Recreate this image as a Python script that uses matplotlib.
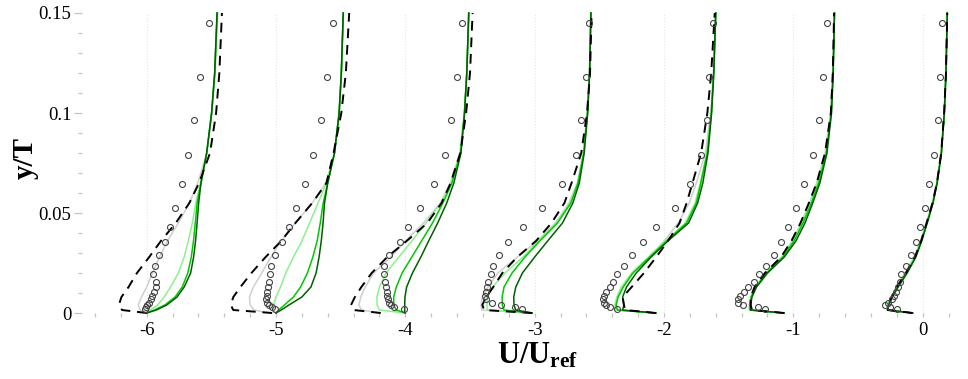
import matplotlib
matplotlib.use("Agg")
import matplotlib.pyplot as plt
import numpy as np
from matplotlib.ticker import MultipleLocator

plt.rcParams['font.family'] = ['Liberation Serif', 'DejaVu Serif']
plt.rcParams['axes.unicode_minus'] = False
plt.rcParams['mathtext.fontset'] = 'custom'
plt.rcParams['mathtext.rm'] = 'Liberation Serif'
plt.rcParams['mathtext.bf'] = 'Liberation Serif:bold'

# station offsets on the U/Uref axis
stations = [-6, -5, -4, -3, -2, -1, 0]

# wall-normal positions for the simulated profiles
y_line = [0, 0.0015, 0.004, 0.008, 0.013, 0.02, 0.028, 0.036, 0.045, 0.055, 0.065, 0.08, 0.1, 0.12, 0.15]

# wall-normal positions of the measured points
y_exp = [0.1448, 0.1182, 0.0965, 0.0792, 0.0645, 0.0527, 0.0432, 0.0355, 0.0288, 0.0235,
         0.0193, 0.0157, 0.0130, 0.0105, 0.0085, 0.0068, 0.0052, 0.0040, 0.0028, 0.0018]

# velocity relative to station offset, one list per station
u_gray = [
    [0, -0.05, -0.065, -0.04, 0.0, 0.045, 0.1, 0.16, 0.245, 0.33, 0.395, 0.465, 0.505, 0.53, 0.55],
    [-0.05, -0.17, -0.2, -0.205, -0.175, -0.11, -0.04, 0.04, 0.15, 0.28, 0.385, 0.455, 0.49, 0.507, 0.522],
    [-0.2, -0.34, -0.358, -0.345, -0.31, -0.245, -0.113, 0.0, 0.14, 0.27, 0.35, 0.42, 0.456, 0.476, 0.493],
    [-0.02, -0.41, -0.415, -0.405, -0.36, -0.285, -0.133, 0.02, 0.16, 0.265, 0.33, 0.375, 0.405, 0.423, 0.435],
    [-0.063, -0.37, -0.375, -0.36, -0.32, -0.245, -0.11, 0.0, 0.11, 0.195, 0.25, 0.32, 0.36, 0.382, 0.4],
    [-0.071, -0.34, -0.34, -0.33, -0.295, -0.21, -0.09, -0.01, 0.06, 0.125, 0.18, 0.245, 0.288, 0.305, 0.318],
    [-0.078, -0.275, -0.27, -0.245, -0.205, -0.138, -0.066, -0.017, 0.027, 0.074, 0.108, 0.142, 0.166, 0.18, 0.19],
]
u_lightgreen = [
    [0, 0.03, 0.085, 0.135, 0.185, 0.245, 0.29, 0.322, 0.353, 0.38, 0.415, 0.465, 0.503, 0.527, 0.547],
    [0, -0.025, -0.02, 0.0, 0.035, 0.075, 0.135, 0.2, 0.26, 0.325, 0.39, 0.452, 0.488, 0.505, 0.52],
    [0, -0.2, -0.218, -0.22, -0.2, -0.15, -0.05, 0.05, 0.16, 0.275, 0.355, 0.425, 0.456, 0.475, 0.491],
    [-0.02, -0.365, -0.37, -0.366, -0.326, -0.23, -0.09, 0.03, 0.17, 0.27, 0.332, 0.378, 0.407, 0.424, 0.435],
    [-0.063, -0.375, -0.38, -0.365, -0.33, -0.25, -0.12, 0.01, 0.165, 0.24, 0.28, 0.33, 0.365, 0.384, 0.4],
    [-0.071, -0.34, -0.34, -0.33, -0.295, -0.21, -0.085, -0.005, 0.065, 0.13, 0.185, 0.25, 0.29, 0.306, 0.318],
    [-0.078, -0.275, -0.268, -0.242, -0.198, -0.13, -0.06, -0.013, 0.03, 0.076, 0.11, 0.143, 0.166, 0.18, 0.19],
]
u_green = [
    [0, 0.06, 0.14, 0.22, 0.275, 0.318, 0.345, 0.362, 0.376, 0.39, 0.42, 0.464, 0.502, 0.526, 0.545],
    [0, 0.02, 0.065, 0.135, 0.19, 0.243, 0.285, 0.318, 0.342, 0.365, 0.4, 0.452, 0.488, 0.505, 0.52],
    [0, -0.07, -0.09, -0.09, -0.07, -0.025, 0.05, 0.125, 0.21, 0.29, 0.36, 0.428, 0.457, 0.475, 0.49],
    [-0.02, -0.237, -0.25, -0.252, -0.237, -0.175, -0.075, 0.04, 0.176, 0.28, 0.335, 0.38, 0.408, 0.424, 0.434],
    [-0.063, -0.36, -0.37, -0.355, -0.315, -0.24, -0.11, 0.02, 0.175, 0.25, 0.285, 0.335, 0.366, 0.384, 0.4],
    [-0.071, -0.335, -0.335, -0.325, -0.29, -0.205, -0.08, 0.005, 0.075, 0.14, 0.195, 0.255, 0.293, 0.307, 0.318],
    [-0.078, -0.272, -0.265, -0.238, -0.193, -0.124, -0.056, -0.01, 0.033, 0.078, 0.111, 0.144, 0.167, 0.18, 0.19],
]
u_darkgreen = [
    [0, 0.075, 0.155, 0.235, 0.29, 0.34, 0.363, 0.378, 0.39, 0.402, 0.42, 0.464, 0.502, 0.526, 0.544],
    [0, 0.04, 0.1, 0.2, 0.27, 0.31, 0.333, 0.35, 0.364, 0.375, 0.4, 0.452, 0.488, 0.505, 0.52],
    [-0.005, -0.005, -0.005, -0.003, 0.01, 0.055, 0.12, 0.18, 0.25, 0.32, 0.375, 0.43, 0.458, 0.475, 0.49],
    [-0.02, -0.146, -0.16, -0.162, -0.146, -0.095, 0.0, 0.1, 0.215, 0.295, 0.345, 0.383, 0.41, 0.425, 0.435],
    [-0.063, -0.32, -0.31, -0.32, -0.29, -0.215, -0.1, 0.03, 0.19, 0.26, 0.3, 0.34, 0.368, 0.385, 0.4],
    [-0.071, -0.33, -0.33, -0.32, -0.285, -0.2, -0.07, 0.02, 0.09, 0.15, 0.205, 0.26, 0.295, 0.308, 0.318],
    [-0.078, -0.27, -0.262, -0.235, -0.19, -0.12, -0.053, -0.008, 0.035, 0.08, 0.112, 0.145, 0.167, 0.18, 0.19],
]
u_dashed = [
    [0, -0.19, -0.215, -0.195, -0.14, -0.075, 0.02, 0.11, 0.225, 0.33, 0.405, 0.49, 0.537, 0.562, 0.582],
    [-0.03, -0.33, -0.35, -0.33, -0.275, -0.19, -0.08, 0.04, 0.15, 0.28, 0.39, 0.445, 0.505, 0.54, 0.566],
    [-0.19, -0.40, -0.42, -0.39, -0.34, -0.26, -0.14, 0.01, 0.17, 0.28, 0.35, 0.425, 0.47, 0.5, 0.52],
    [-0.02, -0.39, -0.405, -0.375, -0.32, -0.25, -0.135, 0.01, 0.13, 0.23, 0.285, 0.36, 0.405, 0.428, 0.44],
    [-0.063, -0.3, -0.31, -0.32, -0.25, -0.155, -0.06, 0.03, 0.12, 0.175, 0.22, 0.287, 0.335, 0.365, 0.392],
    [-0.071, -0.32, -0.33, -0.33, -0.30, -0.22, -0.095, -0.015, 0.055, 0.12, 0.18, 0.245, 0.29, 0.305, 0.315],
    [-0.078, -0.27, -0.265, -0.24, -0.2, -0.13, -0.06, -0.012, 0.03, 0.076, 0.11, 0.143, 0.166, 0.18, 0.19],
]
u_exp = [
    [0.482, 0.412, 0.366, 0.317, 0.271, 0.218, 0.18, 0.143, 0.095, 0.064, 0.049, 0.073, 0.076, 0.057, 0.044, 0.031, 0.018, 0.005, -0.008, -0.015],
    [0.444, 0.397, 0.346, 0.284, 0.227, 0.151, 0.097, 0.046, -0.009, -0.041, -0.044, -0.052, -0.059, -0.067, -0.072, -0.074, -0.068, -0.055, -0.03, -0.01],
    [0.441, 0.403, 0.351, 0.305, 0.222, 0.116, 0.024, -0.042, -0.126, -0.164, -0.166, -0.157, -0.15, -0.143, -0.139, -0.135, -0.128, -0.11, -0.087, -0.01],
    [0.421, 0.395, 0.362, 0.318, 0.208, 0.06, -0.087, -0.206, -0.277, -0.319, -0.34, -0.36, -0.366, -0.378, -0.385, -0.38, -0.33, -0.26, -0.15, -0.10],
    [0.375, 0.349, 0.329, 0.285, 0.202, 0.085, -0.063, -0.166, -0.244, -0.309, -0.36, -0.391, -0.42, -0.448, -0.462, -0.468, -0.465, -0.45, -0.42, -0.36],
    [0.259, 0.226, 0.2, 0.149, 0.084, 0.019, -0.045, -0.097, -0.153, -0.213, -0.265, -0.308, -0.35, -0.38, -0.41, -0.43, -0.43, -0.39, -0.27, -0.22],
    [0.148, 0.133, 0.115, 0.089, 0.045, 0.02, -0.019, -0.051, -0.091, -0.129, -0.164, -0.175, -0.19, -0.205, -0.22, -0.24, -0.265, -0.295, -0.25, -0.2],
]

fig = plt.figure(figsize=(9.68, 3.79), dpi=100)
ax = fig.add_axes([0.0847, 0.1741, 0.9019, 0.7916])

series = [
    (u_gray, '#cfcfcf', '-'),
    (u_lightgreen, '#8ef08e', '-'),
    (u_green, '#00c800', '-'),
    (u_darkgreen, '#006000', '-'),
]

for i, st in enumerate(stations):
    for u_list, color, ls in series:
        ax.plot(st + np.array(u_list[i]), y_line, color=color, lw=1.1, ls=ls,
                clip_on=False, zorder=2)
    ax.plot(st + np.array(u_dashed[i]), y_line, color='black', lw=1.4,
            dashes=(5, 3.5), clip_on=False, zorder=3)
    ax.plot(st + np.array(u_exp[i]), y_exp, 'o', mfc='none', mec='#444444',
            ms=4.3, mew=0.8, clip_on=False, zorder=4)

ax.set_xlim(-6.5, 0.25)
ax.set_ylim(0, 0.15)
ax.xaxis.set_major_locator(MultipleLocator(1))
ax.xaxis.set_minor_locator(MultipleLocator(0.2))
ax.yaxis.set_major_locator(MultipleLocator(0.05))
ax.yaxis.set_minor_locator(MultipleLocator(0.01))
ax.set_yticks([0, 0.05, 0.1, 0.15])
ax.set_yticklabels(['0', '0.05', '0.1', '0.15'])

for s in ax.spines.values():
    s.set_visible(False)

ax.tick_params(axis='y', which='major', length=5.5, width=0.9, color='#c4c4c4',
               labelsize=13.5, pad=2)
ax.tick_params(axis='y', which='minor', length=3, width=0.9, color='#c4c4c4')
ax.tick_params(axis='x', which='both', length=3.2, width=0.9, color='#c4c4c4',
               labelsize=13.5, pad=3.5)

# very faint dotted guides at the stations
ax.grid(True, axis='x', which='major', color='#e6e6e6', ls=':', lw=0.8, zorder=0)

fig.text(497 / 968, 1 - 363 / 379, r'$\mathbf{U/U_{ref}}$', fontsize=22,
         ha='left', va='baseline')
fig.text(25 / 968, 1 - 158 / 379, 'y/T', fontsize=21, fontweight='bold',
         rotation=90, ha='center', va='center')

fig.savefig('out.png', dpi=100)
